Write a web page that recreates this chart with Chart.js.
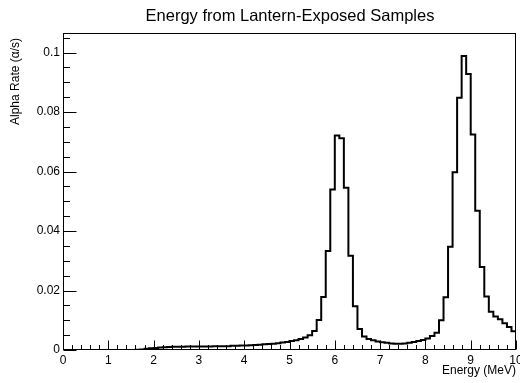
<!DOCTYPE html>
<html><head><meta charset="utf-8">
<script src="https://cdn.jsdelivr.net/npm/chart.js@4/dist/chart.umd.min.js"></script>
<style>html,body{margin:0;padding:0;background:#fff}</style>
</head><body>
<canvas id="c" width="520" height="383" style="width:520px;height:383px;display:block"></canvas>
<script>
// ---- data ----
const chartTitle = "Energy from Lantern-Exposed Samples";
const xAxisTitle = "Energy (MeV)";
const yAxisTitle = "Alpha Rate (\u03B1/s)";
const energyMin = 0;
const energyMax = 10;
const binWidth = 0.1; // MeV per bin
// alpha rate (α/s) per 0.1 MeV bin, bins 0.0 ... 9.9 MeV
const alphaRate = [
  0,0,0,0,0,0,0,0,0,0,                                               // 0.0-0.9
  0,0,0,0,0,0,0.0001,0.0002,0.0004,0.0006,                           // 1.0-1.9
  0.0007,0.0008,0.0009,0.0010,0.0011,0.0011,0.0011,0.0012,0.0012,0.0012, // 2.0-2.9
  0.0012,0.0012,0.0012,0.0013,0.0013,0.0013,0.0013,0.0014,0.0014,0.0015, // 3.0-3.9
  0.0015,0.0016,0.0017,0.0018,0.0019,0.0020,0.0021,0.0023,0.0025,0.0027, // 4.0-4.9
  0.0030,0.0033,0.0037,0.0042,0.0050,0.0064,0.0101,0.0178,0.0333,0.0540, // 5.0-5.9
  0.0721,0.0712,0.0546,0.0317,0.0147,0.0071,0.0045,0.0037,0.0033,0.0029, // 6.0-6.9
  0.0026,0.0024,0.0022,0.0021,0.0021,0.0022,0.0024,0.0027,0.0030,0.0034, // 7.0-7.9
  0.0039,0.0047,0.0058,0.0100,0.0177,0.0347,0.0598,0.0848,0.0989,0.0928, // 8.0-8.9
  0.0725,0.0468,0.0279,0.0180,0.0129,0.0113,0.0103,0.0090,0.0077,0.0063  // 9.0-9.9
];
const xTickValues = [0,1,2,3,4,5,6,7,8,9,10];
const yTickValues = [0,0.02,0.04,0.06,0.08,0.1];
const yMax = 0.1066;

// ---- build step-histogram points (bin low edges + closing edge) ----
const histPoints = alphaRate.map((v, i) => ({x: energyMin + i * binWidth, y: v}));
histPoints.push({x: energyMax, y: alphaRate[alphaRate.length - 1]});

const FONT = "'Liberation Sans', Arial, Helvetica, sans-serif";

const rootStyle = {
  id: 'rootStyle',
  afterDatasetsDraw(chart) {
    const {ctx, chartArea: a, scales: {x, y}} = chart;
    ctx.save();
    ctx.strokeStyle = '#000';
    ctx.lineWidth = 1;
    // frame
    ctx.strokeRect(Math.round(a.left) + 0.5, Math.round(a.top) + 0.5,
                   Math.round(a.right - a.left) - 1, Math.round(a.bottom - a.top) - 1);
    ctx.beginPath();
    const yb = Math.round(a.bottom) - 0.5;
    // x ticks (major at integers, minor every 0.2)
    for (let k = 0; k <= 50; k++) {
      const v = k * 0.2;
      const px = Math.round(x.getPixelForValue(v)) + 0.5;
      const len = (k % 5 === 0) ? 9 : 4.5;
      ctx.moveTo(px, yb); ctx.lineTo(px, yb - len);
    }
    // y ticks (major every 0.02, minor every 0.005)
    const xl = Math.round(a.left) + 0.5;
    for (let k = 0; k <= 21; k++) {
      const v = k * 0.005;
      const py = Math.round(y.getPixelForValue(v)) + 0.5;
      const len = (k % 4 === 0) ? 13 : 6.5;
      ctx.moveTo(xl, py); ctx.lineTo(xl + len, py);
    }
    ctx.stroke();
    // titles
    ctx.fillStyle = '#000';
    ctx.font = '16.5px ' + FONT;
    ctx.textAlign = 'center';
    ctx.textBaseline = 'alphabetic';
    ctx.fillText(chartTitle, 290, 21);
    ctx.font = '12px ' + FONT;
    ctx.textAlign = 'right';
    ctx.fillText(xAxisTitle, a.right, 374);
    ctx.translate(19, a.top + 5);
    ctx.rotate(-Math.PI / 2);
    ctx.textAlign = 'right';
    ctx.fillText(yAxisTitle, 0, 0);
    ctx.restore();
  }
};

new Chart(document.getElementById('c'), {
  type: 'line',
  data: {
    datasets: [{
      data: histPoints,
      stepped: 'before',
      borderColor: '#000',
      borderWidth: 2,
      pointRadius: 0,
      fill: false,
      tension: 0
    }]
  },
  options: {
    responsive: false,
    animation: false,
    devicePixelRatio: 1,
    layout: {padding: {top: 33, right: 4, left: 0, bottom: 0}},
    plugins: {legend: {display: false}, tooltip: {enabled: false}, title: {display: false}},
    scales: {
      x: {
        type: 'linear', min: energyMin, max: energyMax,
        grid: {display: false, drawTicks: false},
        border: {display: false},
        afterFit: s => { s.height = 33; s.paddingLeft = 0; s.paddingRight = 0; },
        afterBuildTicks: s => { s.ticks = xTickValues.map(v => ({value: v})); },
        ticks: {
          autoSkip: false, maxRotation: 0, includeBounds: false, padding: 3,
          color: '#000', font: {family: FONT, size: 12},
          callback: v => String(v)
        }
      },
      y: {
        type: 'linear', min: 0, max: yMax,
        grid: {display: false, drawTicks: false},
        border: {display: false},
        afterFit: s => { s.width = 63; s.paddingTop = 0; s.paddingBottom = 0; },
        afterBuildTicks: s => { s.ticks = yTickValues.map(v => ({value: v})); },
        ticks: {
          autoSkip: false, includeBounds: false, padding: 3,
          color: '#000', font: {family: FONT, size: 12},
          callback: v => String(Number(v.toFixed(3)))
        }
      }
    }
  },
  plugins: [rootStyle]
});
</script>
</body></html>
